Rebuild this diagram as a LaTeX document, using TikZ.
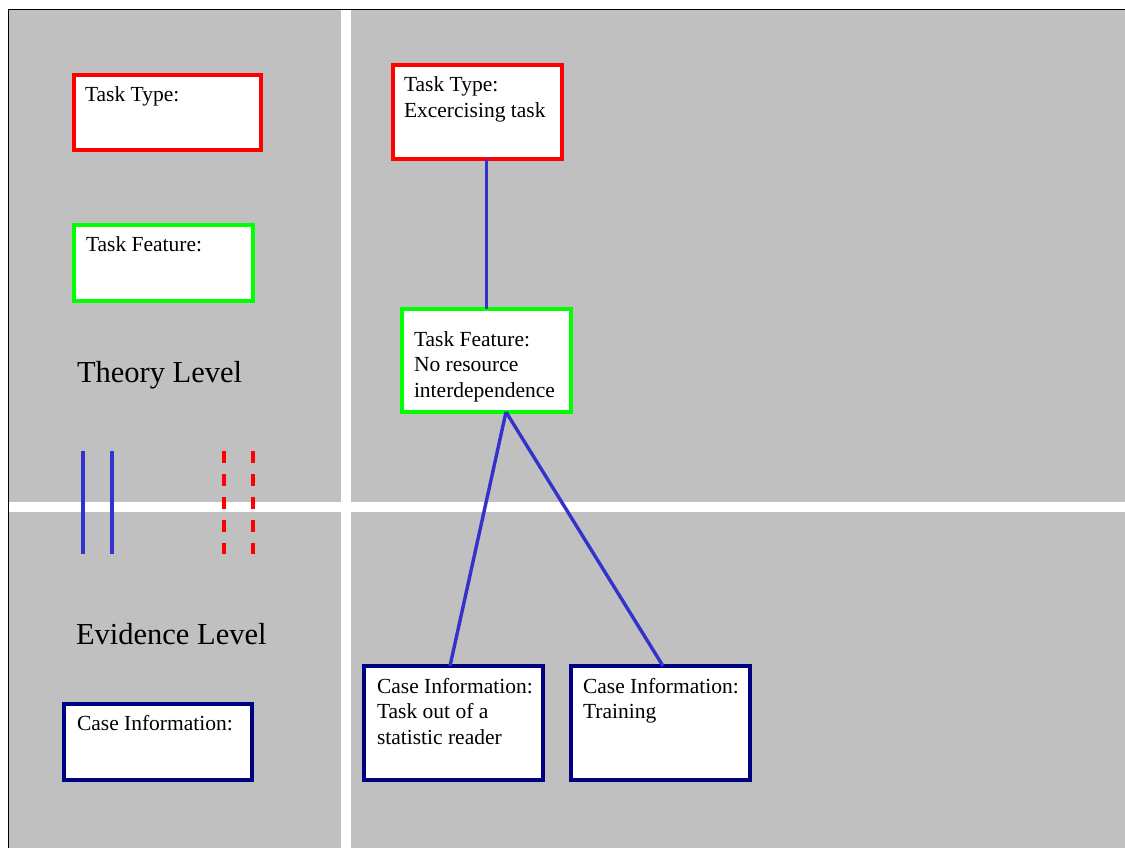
\documentclass[tikz,border=0pt]{standalone}
\usepackage{fontspec}
\setmainfont{Liberation Serif}
\definecolor{panelgray}{HTML}{C0C0C0}
\definecolor{linkblue}{HTML}{3333CC}
\definecolor{boxred}{HTML}{FF0000}
\definecolor{boxgreen}{HTML}{00FF00}
\definecolor{boxnavy}{HTML}{000080}
\tikzset{
  panel/.style={fill=panelgray, draw=none},
  boxbase/.style={rectangle, fill=white, line width=4pt, inner sep=0pt, outer sep=0pt},
  typebox/.style={boxbase, draw=boxred},
  featbox/.style={boxbase, draw=boxgreen},
  casebox/.style={boxbase, draw=boxnavy},
  boxtext/.style={anchor=base west, inner sep=0pt, outer sep=0pt,
    font=\fontsize{21.5}{25.8}\selectfont},
  leveltext/.style={anchor=base west, inner sep=0pt, outer sep=0pt,
    font=\fontsize{30.5}{36}\selectfont},
  link/.style={draw=linkblue, line width=3.4pt},
  legsolid/.style={draw=linkblue, line width=3.4pt},
  legdashed/.style={draw=boxred, line width=3.4pt, dash pattern=on 12pt off 11pt},
}
\newcommand{\lines}[1]{\begin{tabular}[t]{@{}l@{}}#1\end{tabular}}
\begin{document}
\begin{tikzpicture}[x=1pt,y=-1pt]
\useasboundingbox[fill=white] (0,0) rectangle (1125,848);
% panels
\fill[panel] (9,10) rectangle (341,502);
\fill[panel] (351,10) rectangle (1125,502);
\fill[panel] (9,512) rectangle (341,848);
\fill[panel] (351,512) rectangle (1125,848);
\draw[black, line width=1.5pt] (8.3,848) -- (8.3,9.3) -- (1125,9.3);
% legend boxes
\node[typebox, minimum width=187pt, minimum height=75pt] (ttleg) at (167.5,112.5) {};
\node[boxtext] (ttlegt) at (85,102) {Task Type:};
\node[featbox, minimum width=179pt, minimum height=76pt] (tfleg) at (163.5,263) {};
\node[boxtext] (tflegt) at (86,251) {Task Feature:};
\node[casebox, minimum width=188pt, minimum height=76pt] (cileg) at (158,742) {};
\node[boxtext] (cilegt) at (77,730) {Case Information:};
% level labels
\node[leveltext] (theory) at (77,382) {Theory Level};
\node[leveltext] (evidence) at (76,644) {Evidence Level};
% legend line samples
\coordinate (s1a) at (83,451); \coordinate (s1b) at (83,554);
\coordinate (s2a) at (112,451); \coordinate (s2b) at (112,554);
\coordinate (d1a) at (224,451); \coordinate (d1b) at (224,554);
\coordinate (d2a) at (253,451); \coordinate (d2b) at (253,554);
\draw[legsolid] (s1a) -- (s1b);
\draw[legsolid] (s2a) -- (s2b);
\draw[legdashed] (d1a) -- (d1b);
\draw[legdashed] (d2a) -- (d2b);
% right side
\node[typebox, minimum width=169pt, minimum height=94pt] (tt) at (477.5,112) {};
\node[boxtext] (ttt) at (404,92) {\lines{Task Type:\\Excercising task}};
\node[featbox, minimum width=169pt, minimum height=102.5pt] (tf) at (486.5,360.7) {};
\node[boxtext] (tft) at (414,346) {\lines{Task Feature:\\No resource\\interdependence}};
\node[casebox, minimum width=179pt, minimum height=114pt] (ci1) at (453.5,723) {};
\node[boxtext] (ci1t) at (377,693) {\lines{Case Information:\\Task out of a\\statistic reader}};
\node[casebox, minimum width=179pt, minimum height=114pt] (ci2) at (660.5,723) {};
\node[boxtext] (ci2t) at (583,693) {\lines{Case Information:\\Training}};
% connectors
\draw[link] (tf.north |- tt.south) -- (tf.north);
\draw[link] ([xshift=19.5pt]tf.south) -- ([xshift=-3.5pt]ci1.north);
\draw[link] ([xshift=19.5pt]tf.south) -- ([xshift=2.5pt]ci2.north);
\end{tikzpicture}
\end{document}
